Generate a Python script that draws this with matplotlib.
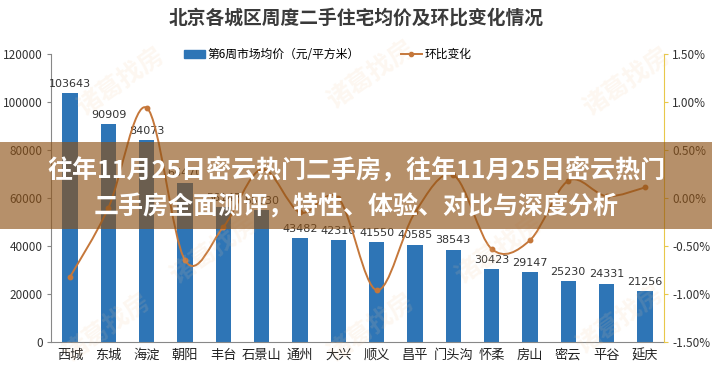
import numpy as np
import matplotlib
matplotlib.use('Agg')
import matplotlib.pyplot as plt
from matplotlib.path import Path
from matplotlib.patches import PathPatch, Rectangle
from matplotlib.ticker import FuncFormatter

plt.rcParams['font.family'] = ['Noto Sans CJK SC', 'DejaVu Sans']

# ===== Data =====
districts = ['西城', '东城', '海淀', '朝阳', '丰台', '石景山', '通州', '大兴',
             '顺义', '昌平', '门头沟', '怀柔', '房山', '密云', '平谷', '延庆']
avg_price = [103643, 90909, 84073, 66470, 56147, 55030, 43482, 42316,
             41550, 40585, 38543, 30423, 29147, 25230, 24331, 21256]
mom_change = [-0.82, -0.10, 0.94, -0.65, -0.30, 0.30, -0.15, 0.00,
              -0.96, -0.15, 0.24, -0.53, -0.44, 0.18, 0.02, 0.11]  # percent

TITLE = '北京各城区周度二手住宅均价及环比变化情况'
BAR_LABEL = '第6周市场均价（元/平方米）'
LINE_LABEL = '环比变化'
BANNER = ['往年11月25日密云热门二手房，往年11月25日密云热门',
          '二手房全面测评，特性、体验、对比与深度分析']

BLUE = '#2E75B6'
ORANGE = '#C5773A'

# ===== Plot =====
fig = plt.figure(figsize=(7.12, 3.72), dpi=100)
ax = fig.add_axes([0.0716, 0.0806, 0.861, 0.774])
ax2 = ax.twinx()

x = np.arange(len(districts))
bars = ax.bar(x, avg_price, width=0.4, color=BLUE, zorder=2)
ax.bar_label(bars, labels=[str(v) for v in avg_price], padding=3,
             fontsize=8, color='#333333', family=['DejaVu Sans'])

ax.set_xlim(-0.5, len(districts) - 0.5)
ax.set_ylim(0, 120000)
ax.set_yticks(np.arange(0, 120001, 20000))
ax.set_xticks(x)
ax.set_xticklabels(districts, fontsize=9.5, color='#222222')
ax.tick_params(axis='x', length=0, pad=5)
ax.tick_params(axis='y', labelsize=8.5, labelcolor='#333333', length=3,
               color='#888888', pad=3)
for s in ['top', 'right']:
    ax.spines[s].set_visible(False)
ax.spines['left'].set_color('#888888')
ax.spines['bottom'].set_color('#888888')

# smoothed line (Excel-style) via cubic Bezier segments
y = np.array(mom_change)
verts = [(x[0], y[0])]
codes = [Path.MOVETO]
for i in range(len(x) - 1):
    p0 = (x[i - 1], y[i - 1]) if i > 0 else (x[i], y[i])
    p3n = (x[i + 2], y[i + 2]) if i + 2 < len(x) else (x[i + 1], y[i + 1])
    c1 = (x[i] + (x[i + 1] - p0[0]) / 6, y[i] + (y[i + 1] - p0[1]) / 6)
    c2 = (x[i + 1] - (p3n[0] - x[i]) / 6, y[i + 1] - (p3n[1] - y[i]) / 6)
    verts += [c1, c2, (x[i + 1], y[i + 1])]
    codes += [Path.CURVE4] * 3
ax2.add_patch(PathPatch(Path(verts, codes), facecolor='none',
                        edgecolor=ORANGE, lw=1.4, zorder=3))
ax2.plot(x, y, 'o', color=ORANGE, ms=3.2, zorder=4)

ax2.set_ylim(-1.5, 1.5)
ax2.set_yticks(np.arange(-1.5, 1.51, 0.5))
ax2.yaxis.set_major_formatter(FuncFormatter(lambda v, p: f'{v:.2f}%'))
ax2.tick_params(axis='y', labelsize=8.5, labelcolor='#333333', length=3,
                color='#E8C84A', pad=3)
for s in ['top', 'left', 'bottom']:
    ax2.spines[s].set_visible(False)
ax2.spines['right'].set_color('#E8C84A')

# legend
h1 = Rectangle((0, 0), 1, 1, color=BLUE)
h2, = ax2.plot([], [], '-o', color=ORANGE, ms=3, lw=1.4)
fig.legend([h1, h2], [BAR_LABEL, LINE_LABEL], loc='center',
           bbox_to_anchor=(0.46, 0.853), ncol=2, frameon=False,
           fontsize=8.5, handlelength=1.8, handleheight=0.6,
           columnspacing=3.5, handletextpad=0.2)

fig.text(0.5, 0.951, TITLE, ha='center', va='center', fontsize=13.5,
         fontweight='bold', color='#3A3A3A')

# faint watermark
for wx, wy in [(0.17, 0.78), (0.52, 0.80), (0.88, 0.78), (0.30, 0.33),
               (0.70, 0.33), (0.15, 0.12), (0.52, 0.12), (0.87, 0.14)]:
    fig.text(wx, wy, '诸葛找房', ha='center', va='center', fontsize=18,
             rotation=35, color='#F3C89A', alpha=0.14, fontweight='bold')

# banner overlay
fig.patches.append(Rectangle((0, 1 - 229 / 372), 1, 87 / 372,
                             transform=fig.transFigure, facecolor='#8E5216',
                             alpha=0.64, zorder=10))
fig.text(0.5, 1 - 170 / 372, BANNER[0], ha='center', va='center',
         fontsize=18, fontweight='bold', color='white', zorder=11)
fig.text(0.5, 1 - 207 / 372, BANNER[1], ha='center', va='center',
         fontsize=18, fontweight='bold', color='white', zorder=11)

fig.savefig('out.png', dpi=100)
